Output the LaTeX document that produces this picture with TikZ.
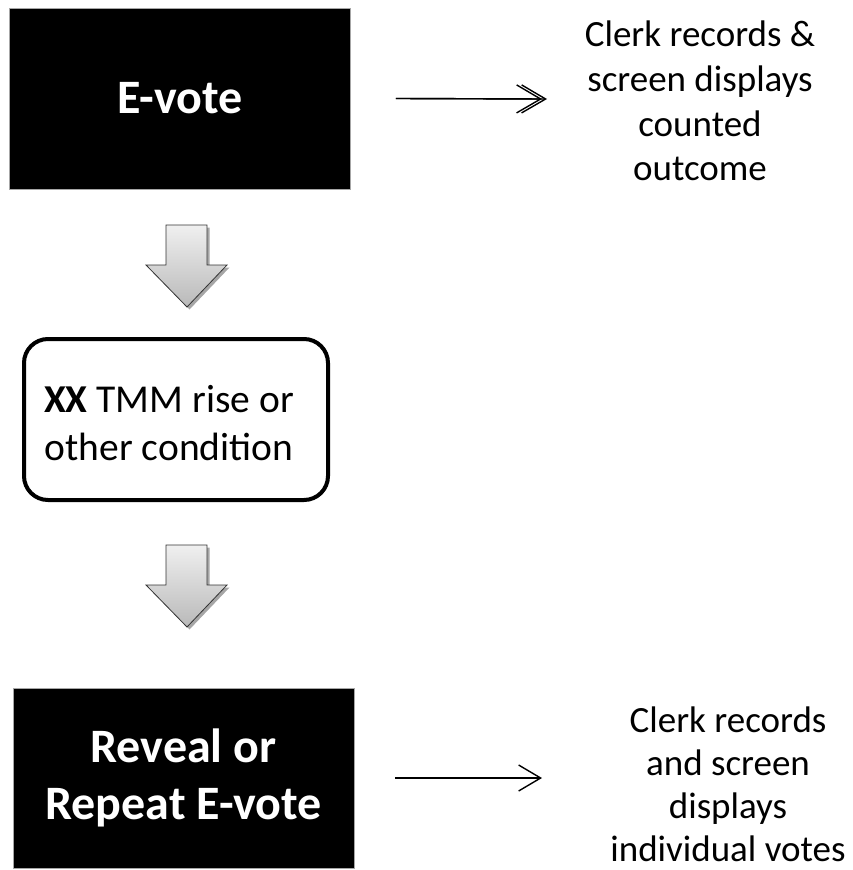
\documentclass[tikz,border=0pt]{standalone}
\usepackage{fontspec}
\setmainfont{Carlito}
\usetikzlibrary{arrows.meta,shadows}
\begin{document}
\begin{tikzpicture}[x=1pt,y=-1pt,
  blackbox/.style={fill=black, draw=gray!70, line width=0.6pt, text=white, align=center, inner sep=0pt},
  condbox/.style={draw=black, line width=4pt, rounded corners=24pt, align=center, inner sep=0pt},
  sidetext/.style={align=center, inner sep=0pt},
  downarrow/.style={draw=black!80, line width=0.8pt, top color=gray!12, bottom color=gray!55,
     drop shadow={shadow xshift=2.5pt, shadow yshift=-2.5pt, opacity=0.35, fill=black}},
  conn/.style={line width=1.4pt},
  barb/.style={-{Straight Barb[length=24pt,width=28pt,line width=1.4pt]}}
]
\useasboundingbox (0,0) rectangle (852,870);

% boxes
\node[blackbox, minimum width=341pt, minimum height=181pt,
      font={\fontsize{48}{57}\selectfont\bfseries}] (ev) at (180,98.5) {E-vote};
\node[condbox, minimum width=304pt, minimum height=161pt] (cond) at (176,419.5) {};
\node[sidetext, font={\fontsize{39.5}{48}\selectfont}] (condtext) at (169,423)
  {\textbf{XX} TMM rise or\\other condition};
\node[blackbox, minimum width=341pt, minimum height=180pt,
      font={\fontsize{48}{57}\selectfont\bfseries}] (rep) at (183.5,778)
  {Reveal or\\Repeat E-vote};

% side texts
\node[sidetext, font={\fontsize{37}{44.7}\selectfont}] (t1) at (700,101)
  {Clerk records \&\\screen displays\\counted\\outcome};
\node[sidetext, font={\fontsize{37}{43}\selectfont}] (t2) at (728,784)
  {Clerk records\\and screen\\displays\\individual votes};

% connectors
\coordinate (a1s) at ([xshift=45pt]ev.east);
\coordinate (a1e) at (547,99);
\coordinate (a1b) at (542,99);
\draw[conn, barb] (a1s) -- (a1e);
\draw[conn, barb] (a1s) -- (a1b);
\coordinate (a2s) at ([xshift=41pt]rep.east);
\coordinate (a2e) at (542,778);
\draw[conn, -{Straight Barb[length=22pt,width=26pt,line width=1.4pt]}] (a2s) -- (a2e);

% block down arrows
\foreach \yo in {0,320}{
  \path[downarrow] (166,225+\yo) -- (207,225+\yo) -- (207,265+\yo) -- (227,265+\yo)
     -- (187,307+\yo) -- (146,265+\yo) -- (166,265+\yo) -- cycle;
}
\end{tikzpicture}
\end{document}
